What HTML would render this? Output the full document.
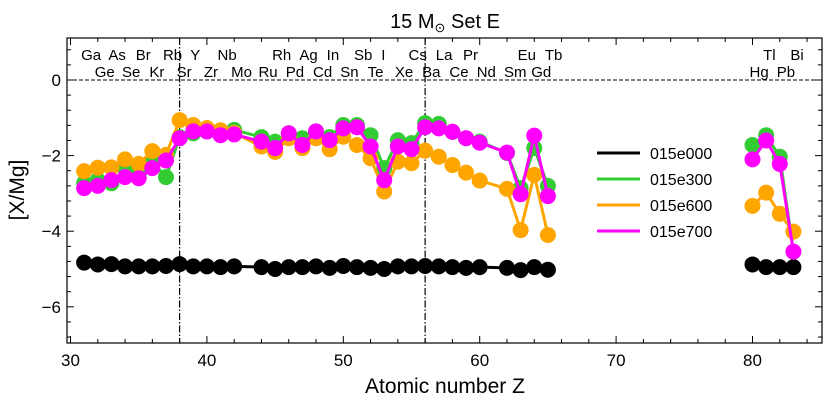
<!DOCTYPE html>
<html><head><meta charset="utf-8"><style>
body{margin:0;background:#fff;}
svg text{font-family:"Liberation Sans",sans-serif;}
</style></head><body>
<svg id="c" width="830" height="415" viewBox="0 0 830 415" xmlns="http://www.w3.org/2000/svg"></svg>
<script>
const Z1=[31,32,33,34,35,36,37,38,39,40,41,42,44,45,46,47,48,49,50,51,52,53,54,55,56,57,58,59,60,62,63,64,65];
const Z2=[80,81,82,83];
const blackA=[-4.83,-4.88,-4.87,-4.93,-4.93,-4.93,-4.92,-4.87,-4.93,-4.93,-4.95,-4.93,-4.95,-5.0,-4.95,-4.95,-4.93,-4.97,-4.92,-4.95,-4.97,-5.0,-4.93,-4.93,-4.92,-4.93,-4.95,-4.97,-4.95,-4.97,-5.03,-4.95,-5.02];
const blackB=[-4.88,-4.95,-4.95,-4.95];
const greenA=[-2.73,-2.65,-2.73,-2.33,-2.51,-2.16,-2.57,-1.51,-1.41,-1.36,-1.36,-1.32,-1.51,-1.63,-1.41,-1.54,-1.36,-1.51,-1.19,-1.19,-1.46,-2.33,-1.59,-1.67,-1.14,-1.16,-1.37,-1.54,-1.63,-1.93,-2.86,-1.8,-2.8];
const greenB=[-1.72,-1.46,-2.03,-4.54];
const orangeA=[-2.41,-2.32,-2.31,-2.1,-2.22,-1.88,-1.98,-1.06,-1.19,-1.27,-1.33,-1.4,-1.76,-1.9,-1.54,-1.8,-1.54,-1.83,-1.5,-1.72,-2.07,-2.95,-2.16,-2.2,-1.87,-2.03,-2.25,-2.45,-2.66,-2.88,-3.97,-2.51,-4.1];
const orangeB=[-3.33,-2.98,-3.54,-4.01];
const magentaA=[-2.86,-2.8,-2.65,-2.57,-2.6,-2.33,-2.13,-1.54,-1.36,-1.36,-1.46,-1.44,-1.63,-1.8,-1.41,-1.72,-1.36,-1.59,-1.28,-1.25,-1.76,-2.65,-1.76,-1.83,-1.25,-1.28,-1.37,-1.54,-1.66,-1.92,-3.02,-1.47,-3.07];
const magentaB=[-2.1,-1.6,-2.22,-4.54];
const seriesNames=["015e000","015e300","015e600","015e700"];
const xTicks=[30,40,50,60,70,80];
const yTicks=[0,-2,-4,-6];
const topLabels=[["Ga",31],["As",33],["Br",35],["Rb",37],["Y",39],["Nb",41],["Rh",45],["Ag",47],["In",49],["Sb",51],["I",53],["Cs",55],["La",57],["Pr",59],["Eu",63],["Tb",65],["Tl",81],["Bi",83]];
const botLabels=[["Ge",32],["Se",34],["Kr",36],["Sr",38],["Zr",40],["Mo",42],["Ru",44],["Pd",46],["Cd",48],["Sn",50],["Te",52],["Xe",54],["Ba",56],["Ce",58],["Nd",60],["Sm",62],["Gd",64],["Hg",80],["Pb",82]];
const vLines=[38,56];

const L=67,R=822,T=38,B=343;
const X=z=>70.5+(z-30)*13.64;
const Y=v=>80-v*37.8;
const svg=document.getElementById('c');
const NS="http://www.w3.org/2000/svg";
function mk(tag,at,parent){const e=document.createElementNS(NS,tag);for(const k in at)e.setAttribute(k,at[k]);(parent||svg).appendChild(e);return e;}

let e=mk('line',{x1:L,x2:R,y1:Y(0),y2:Y(0),stroke:'#000','stroke-width':1,'stroke-dasharray':'4,2'});


vLines.forEach(z=>{
 const l=mk('line',{x1:X(z),x2:X(z),y1:T,y2:B,stroke:'#000','stroke-width':1.2,'stroke-dasharray':'7,2,1.5,2'});
 
 
});

const series=[[blackA,blackB,'#000'],[greenA,greenB,'#33cc33'],[orangeA,orangeB,'#ffa500'],[magentaA,magentaB,'#ff00ff']];
series.forEach((s,i)=>{
 const g=mk('g',{});
 
 
 [[Z1,s[0]],[Z2,s[1]]].forEach(([zs,vs])=>{
  const p=mk('polyline',{points:zs.map((z,j)=>X(z)+','+Y(vs[j])).join(' '),fill:'none',stroke:s[2],'stroke-width':3},g);
  
  
  zs.forEach((z,j)=>{
   const c=mk('circle',{cx:X(z),cy:Y(vs[j]),r:8,fill:s[2]},g);
   
   
  });
 });
});

e=mk('rect',{x:L,y:T,width:R-L,height:B-T,fill:'none',stroke:'#000','stroke-width':1.2});



for(let z=30;z<=84;z+=2){const maj=z%10===0;const len=maj?7:4;
 mk('line',{x1:X(z),x2:X(z),y1:B,y2:B-len,stroke:'#000'});
 mk('line',{x1:X(z),x2:X(z),y1:T,y2:T+len,stroke:'#000'});}
for(let i=-17;i<=2;i++){const v=i*0.4;const maj=Math.abs(v/2-Math.round(v/2))<1e-6;const len=maj?7:4;const y=Y(v);
 if(y<T||y>B)continue;
 mk('line',{x1:L,x2:L+len,y1:y,y2:y,stroke:'#000'});
 mk('line',{x1:R,x2:R-len,y1:y,y2:y,stroke:'#000'});}
xTicks.forEach(t=>{const tx=mk('text',{x:X(t),y:366,'font-size':17,'text-anchor':'middle'});tx.textContent=t;
 
 });
yTicks.forEach(t=>{const tx=mk('text',{x:61,y:Y(t)+6,'font-size':17,'text-anchor':'end'});tx.textContent=t===0?'0':'\u2212'+(-t);
 
 });

[[topLabels,60],[botLabels,77]].forEach(([arr,y])=>arr.forEach(([s,z])=>{
 const tx=mk('text',{x:X(z)-3,y:y,'font-size':15});tx.textContent=s;
 
 
}));

const lg=mk('g',{});


seriesNames.forEach((n,i)=>{const y=153+i*26;
 mk('line',{x1:597,x2:640,y1:y,y2:y,stroke:series[i][2],'stroke-width':3},lg);
 const tx=mk('text',{x:650,y:y+6,'font-size':16},lg);tx.textContent=n;
 
 
});

e=mk('text',{x:445,y:28,'font-size':20,'text-anchor':'middle'});
e.innerHTML='15 M<tspan font-size="13" dy="4">\u2299</tspan><tspan dy="-4"> Set E</tspan>';


e=mk('text',{x:445,y:393,'font-size':21,'text-anchor':'middle'});e.textContent='Atomic number Z';


e=mk('text',{x:0,y:0,'font-size':21,'text-anchor':'middle',transform:'translate(24,190) rotate(-90)'});e.textContent='[X/Mg]';


</script>
</body></html>
